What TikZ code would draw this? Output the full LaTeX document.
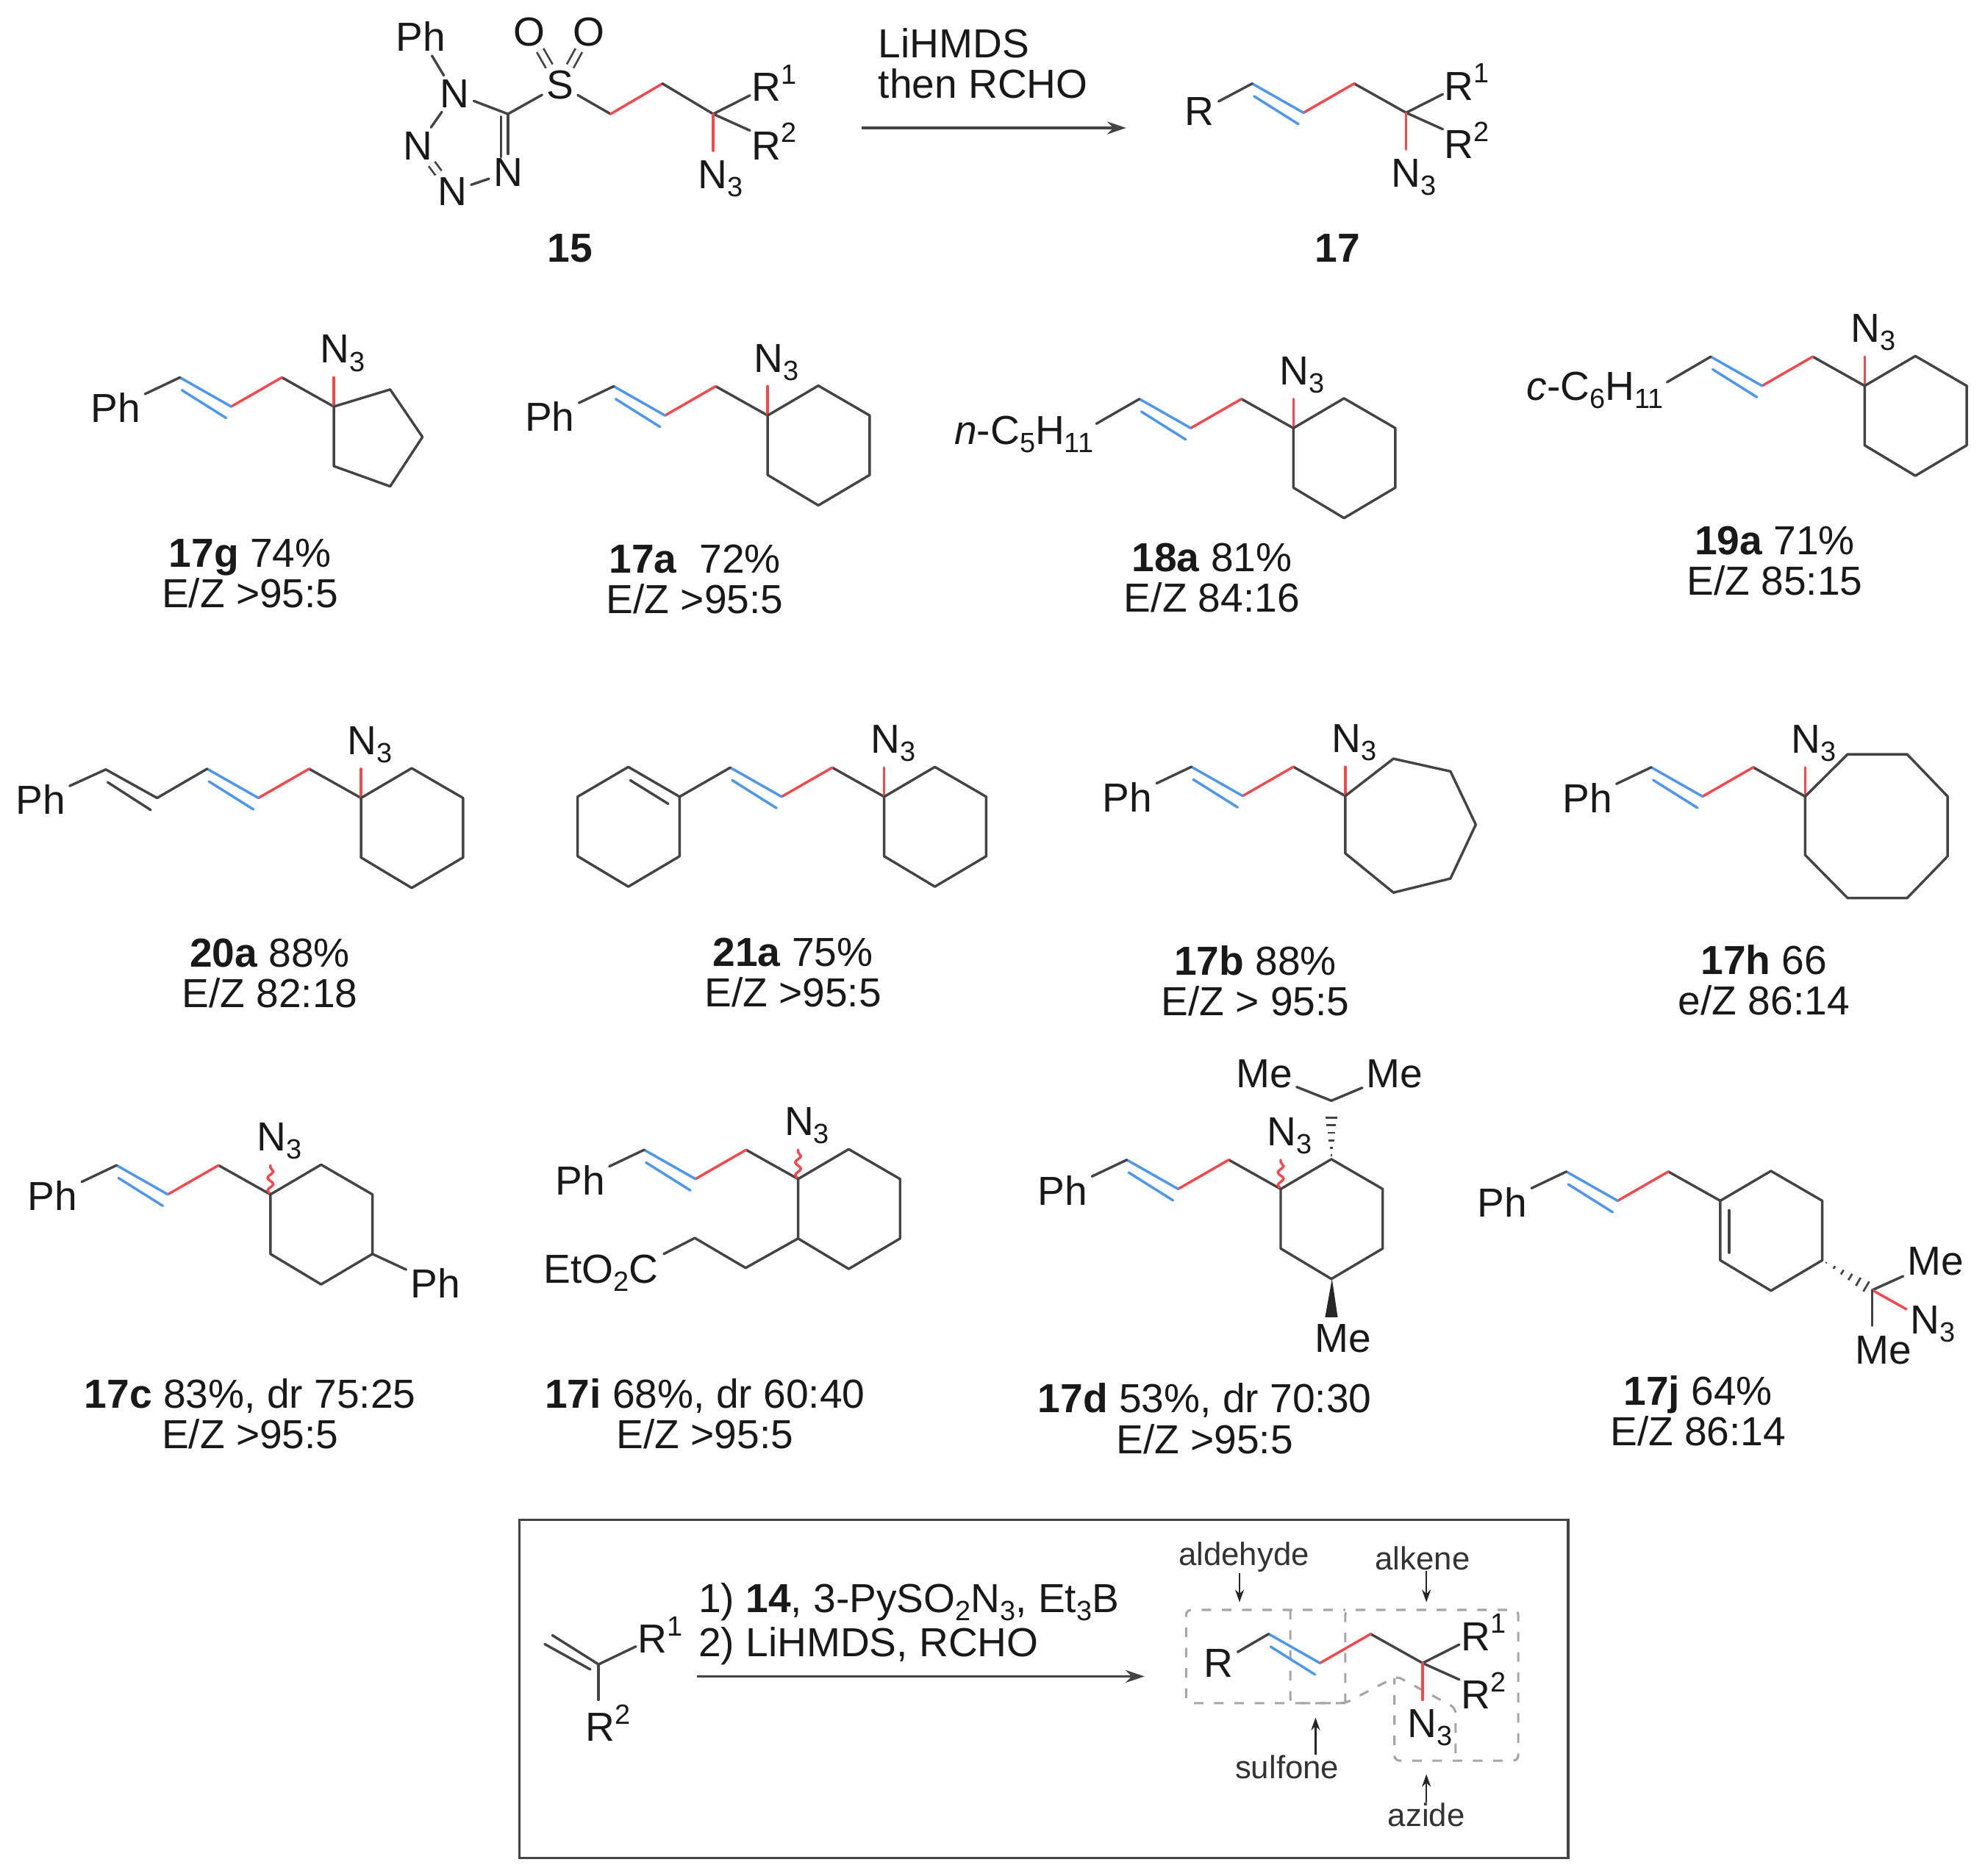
\documentclass[tikz,border=0pt]{standalone}
\usepackage{fontspec}
\setmainfont{Liberation Sans}
\usetikzlibrary{arrows.meta,calc,decorations.pathmorphing}

\definecolor{bondgray}{HTML}{444444}
\definecolor{azred}{HTML}{F5484C}
\definecolor{enblue}{HTML}{4F97EA}

\newcommand{\chemsub}[1]{\raisebox{-0.2em}{\fontsize{11}{11}\selectfont #1}}
\newcommand{\chemsup}[1]{\raisebox{0.42em}{\fontsize{11}{11}\selectfont #1}}

\tikzset{
  atom/.style={inner sep=1.5pt,text=black!90,font=\fontsize{16}{16}\selectfont},
  atombase/.style={atom,anchor=base west,inner sep=0.5pt},
  tag/.style={inner sep=0pt,align=center,text=black!90,font=\fontsize{16}{16}\selectfont},
  reagent/.style={inner sep=0pt,align=left,anchor=west,text=black!90,font=\fontsize{16}{16}\selectfont},
  hint/.style={inner sep=0pt,text=black!80,font=\fontsize{12.7}{12.7}\selectfont},
  bond/.style={draw=bondgray,line width=1pt,line cap=round,line join=round},
  dblbond/.style={draw=bondgray,line width=0.8pt,double=white,double distance=2.2pt},
  redbond/.style={draw=azred,line width=1pt,line cap=round},
  bluebond/.style={draw=enblue,line width=1pt,line cap=round},
  azwave/.style={redbond,decorate,decoration={snake,segment length=5pt,amplitude=1.1pt}},
  bigarrow/.style={draw=bondgray,line width=1pt,-{Stealth[length=7.5pt,width=5pt]}},
  tinyarrow/.style={draw=black!85,line width=0.7pt,-{Stealth[length=5pt,width=3.5pt]}},
  dashbox/.style={draw=gray!70,line width=0.9pt,rounded corners=2pt,dash pattern=on 3.8pt off 4.2pt},
}

\newcommand{\allyl}[3]{
  \coordinate (#1_q) at (#2,#3);
  \coordinate (#1_c1) at (#2-41,#3-23);
  \coordinate (#1_c2) at (#2-81,#3);
  \coordinate (#1_c3) at (#2-121.5,#3-23);
  \coordinate (#1_i3) at (#2-120,#3-13);
  \coordinate (#1_i2) at (#2-85,#3+9);
  \path
    (#1_q) edge[bond] (#1_c1)
    (#1_c1) edge[redbond] (#1_c2)
    (#1_c2) edge[bluebond] (#1_c3)
    (#1_i2) edge[bluebond] (#1_i3);
}
\newcommand{\styryl}[3]{
  \allyl{#1}{#2}{#3}
  \node[atom] (#1_ph) at (#2-172,#3+1) {Ph};
  \path (#1_c3) edge[bond] (#1_ph);
}
\newcommand{\azup}[4]{
  \coordinate (#1_a) at (#2,#3-23);
  \node[atom] (#1_n3) at (#2+7,#3-42) {N\chemsub{3}};
  \path (#1_q) edge[#4] (#1_a);
}
\newcommand{\rtail}[3]{
  \coordinate (#1_a) at (#2,#3+29);
  \node[atombase] (#1_r1) at (#2+29,#3-10) {R\chemsup{1}};
  \node[atombase] (#1_r2) at (#2+29,#3+36) {R\chemsup{2}};
  \node[atom] (#1_n3) at (#2+6,#3+51) {N\chemsub{3}};
  \path
    (#1_q) edge[bond] (#1_r1)
    (#1_q) edge[bond] (#1_r2)
    (#1_q) edge[redbond] (#1_a);
}
\newcommand{\hexring}[2]{
  \draw[bond] (#1,#2) -- ++(40,-23.5) -- ++(40.5,23.5) -- ++(0,47) -- ++(-40.5,24) -- ++(-40,-24) -- cycle;
}
\newcommand{\hashbond}[2]{
  \foreach \t in {0.08,0.24,0.4,0.56,0.72,0.88,1.0}
    \draw[draw=bondgray,line width=0.8pt] ($(#1)!\t!(#2)!{\t*2.6pt}!90:(#2)$) -- ($(#1)!\t!(#2)!{\t*2.6pt}!-90:(#2)$);
}

\begin{document}
\begin{tikzpicture}[x=0.5pt,y=-0.5pt]
  \useasboundingbox (0,0) rectangle (1567,1481);

  % sulfone and general alkene
  \node[atom] (a_ph) at (332,29) {Ph};
  \node[atom] (a_n1) at (359,74) {N};
  \node[atom] (a_n2) at (330,115) {N};
  \node[atom] (a_n3) at (357,151) {N};
  \node[atom] (a_n4) at (401,136) {N};
  \coordinate (a_c5) at (401,90);
  \coordinate (a_c5i) at (395.5,92);
  \coordinate (a_n4i) at (395.5,124);
  \node[atom] (a_s) at (442,67) {S};
  \node[atom] (a_o1) at (418,25) {O};
  \node[atom] (a_o2) at (465,25) {O};
  \coordinate (a_c2) at (482,90);
  \coordinate (a_c1) at (523,66);
  \coordinate (a_q) at (563,90);
  \path
    (a_ph) edge[bond] (a_n1)
    (a_n1) edge[bond] (a_n2)
    (a_n2) edge[dblbond] (a_n3)
    (a_n3) edge[bond] (a_n4)
    (a_n1) edge[bond] (a_c5)
    (a_c5) edge[bond] (a_n4)
    (a_c5i) edge[bond] (a_n4i)
    (a_c5) edge[bond] (a_s)
    (a_s) edge[dblbond] (a_o1)
    (a_s) edge[dblbond] (a_o2)
    (a_s) edge[bond] (a_c2)
    (a_c2) edge[redbond] (a_c1)
    (a_c1) edge[bond] (a_q);
  \rtail{a}{563}{90}
  \node[tag] (a_tag) at (450,196) {\textbf{15}};

  \coordinate (t_s) at (680,101);
  \coordinate (t_e) at (889,101);
  \path (t_s) edge[bigarrow] (t_e);
  \node[reagent] (t_reagent) at (693,50) {LiHMDS\\then RCHO};

  \allyl{b}{1110}{89}
  \node[atom] (b_r) at (947,88) {R};
  \path (b_c3) edge[bond] (b_r);
  \rtail{b}{1110}{89}
  \node[tag] (b_tag) at (1056,196) {\textbf{17}};

  % first row
  \styryl{g}{263.5}{321}
  \azup{g}{263.5}{321}{redbond}
  \draw[bond] (g_q) -- (308,307.5) -- (333.5,345) -- (308,384) -- (263.5,368) -- cycle;
  \node[tag] (g_tag) at (197.5,453) {\textbf{17g} 74\%\\E/Z >95:5};

  \styryl{h}{606}{328}
  \azup{h}{606}{328}{redbond}
  \hexring{606}{328}
  \node[tag] (h_tag) at (548.5,457.5) {\textbf{17a}\ \ 72\%\\E/Z >95:5};

  \allyl{i}{1021}{338}
  \azup{i}{1021}{338}{redbond}
  \hexring{1021}{338}
  \node[atombase] (i_lab) at (752,351) {\textit{n}-C\chemsub{5}H\chemsub{11}};
  \coordinate (i_e) at (865.5,334.5);
  \path (i_c3) edge[bond] (i_e);
  \node[tag] (i_tag) at (956.7,456) {\textbf{18a} 81\%\\E/Z 84:16};

  \allyl{j}{1472}{304.6}
  \azup{j}{1472}{304.6}{redbond}
  \hexring{1472}{304.6}
  \node[atombase] (j_lab) at (1204,316) {\textit{c}-C\chemsub{6}H\chemsub{11}};
  \coordinate (j_e) at (1316,301.7);
  \path (j_c3) edge[bond] (j_e);
  \node[tag] (j_tag) at (1401,442.7) {\textbf{19a} 71\%\\E/Z 85:15};

  % second row
  \allyl{k}{285}{630}
  \azup{k}{285}{630}{redbond}
  \hexring{285}{630}
  \coordinate (k_c4) at (124,630);
  \coordinate (k_c5) at (83.5,607.5);
  \coordinate (k_i4) at (119,639.5);
  \coordinate (k_i5) at (85,617.6);
  \node[atom] (k_ph) at (32,631) {Ph};
  \path
    (k_c3) edge[bond] (k_c4)
    (k_c4) edge[bond] (k_c5)
    (k_i4) edge[bond] (k_i5)
    (k_c5) edge[bond] (k_ph);
  \node[tag] (k_tag) at (213,768.6) {\textbf{20a} 88\%\\E/Z 82:18};

  \allyl{l}{698}{629}
  \azup{l}{698}{629}{redbond}
  \hexring{698}{629}
  \hexring{456}{629}
  \coordinate (l_r) at (536.5,629);
  \coordinate (l_i1) at (497.5,616);
  \coordinate (l_i2) at (527.5,634.6);
  \path
    (l_c3) edge[bond] (l_r)
    (l_i1) edge[bond] (l_i2);
  \node[tag] (l_tag) at (626,768) {\textbf{21a} 75\%\\E/Z >95:5};

  \styryl{m}{1062}{628.4}
  \azup{m}{1062}{628.4}{redbond}
  \draw[bond] (m_q) -- (1100,599) -- (1145,609) -- (1165,651) -- (1145,693.6) -- (1100,704.7) -- (1062,673.7) -- cycle;
  \node[tag] (m_tag) at (991,774.5) {\textbf{17b} 88\%\\E/Z > 95:5};

  \styryl{o}{1425}{628.8}
  \azup{o}{1425}{628.8}{redbond}
  \draw[bond] (o_q) -- (1458.5,595.5) -- (1505.5,595.5) -- (1537.5,628.8) -- (1537.5,676) -- (1505.5,709) -- (1458.5,709) -- (1425,675) -- cycle;
  \node[tag] (o_tag) at (1392.5,774) {\textbf{17h} 66\\e/Z 86:14};

  % third row
  \styryl{p}{213.5}{943}
  \azup{p}{213.5}{943}{azwave}
  \hexring{213.5}{943}
  \coordinate (p_r) at (294,990);
  \node[atom] (p_ph) at (343.6,1013) {Ph};
  \path (p_r) edge[bond] (p_ph);
  \node[tag] (p_tag) at (197.5,1116) {\textbf{17c} 83\%, dr 75:25\\E/Z >95:5};

  \styryl{r}{630}{930.8}
  \azup{r}{630}{930.8}{azwave}
  \hexring{630}{930.8}
  \coordinate (r_r) at (630,977.8);
  \coordinate (r_s1) at (588.6,1001);
  \coordinate (r_s2) at (548.5,977.4);
  \coordinate (r_e) at (524,990);
  \node[atombase] (r_lab) at (428,1013) {EtO\chemsub{2}C};
  \path
    (r_r) edge[bond] (r_s1)
    (r_s1) edge[bond] (r_s2)
    (r_s2) edge[bond] (r_e);
  \node[tag] (r_tag) at (556.5,1116) {\textbf{17i} 68\%, dr 60:40\\E/Z >95:5};

  \styryl{s}{1011}{938.7}
  \azup{s}{1011}{938.7}{azwave}
  \hexring{1011}{938.7}
  \coordinate (s_t) at (1051,915.2);
  \coordinate (s_h) at (1051,878);
  \coordinate (s_ip) at (1051,869);
  \node[atom] (s_me1) at (998,848) {Me};
  \node[atom] (s_me2) at (1101,848) {Me};
  \node[atom] (s_me3) at (1060,1057) {Me};
  \hashbond{s_t}{s_h}
  \path
    (s_ip) edge[bond] (s_me1)
    (s_ip) edge[bond] (s_me2);
  \coordinate (s_b) at (1051.5,1009.7);
  \fill[black!85] (s_b) -- (1056,1040) -- (1046,1040) -- cycle;
  \node[tag] (s_tag) at (951,1120) {\textbf{17d} 53\%, dr 70:30\\E/Z >95:5};

  \styryl{u}{1358}{948}
  \hexring{1358}{948}
  \coordinate (u_i1) at (1365,955.5);
  \coordinate (u_i2) at (1365,989);
  \coordinate (u_r) at (1438.5,995);
  \coordinate (u_t) at (1478,1018.5);
  \coordinate (u_e) at (1478,1046.6);
  \node[atom] (u_me1) at (1528,996) {Me};
  \node[atom] (u_n3) at (1526,1045.5) {N\chemsub{3}};
  \node[atom] (u_me2) at (1487,1066) {Me};
  \hashbond{u_r}{u_t}
  \path
    (u_i1) edge[bond] (u_i2)
    (u_t) edge[bond] (u_me1)
    (u_t) edge[redbond] (u_n3)
    (u_t) edge[bond] (u_e);
  \node[tag] (u_tag) at (1340.5,1114) {\textbf{17j} 64\%\\E/Z 86:14};

  % retrosynthesis box
  \draw[draw=bondgray,line width=1pt] (410,1200) rectangle (1238,1467);
  \coordinate (v_c) at (472.5,1314);
  \coordinate (v_c1) at (436,1291);
  \coordinate (v_i) at (466,1318);
  \coordinate (v_i1) at (430,1298);
  \coordinate (v_e) at (472.5,1342);
  \node[atombase] (v_r1) at (502,1305) {R\chemsup{1}};
  \node[atombase] (v_r2) at (461,1374.6) {R\chemsup{2}};
  \path
    (v_c) edge[bond] (v_c1)
    (v_i) edge[bond] (v_i1)
    (v_c) edge[bond] (v_r1)
    (v_c) edge[bond] (v_e);

  \coordinate (w_s) at (550,1323.5);
  \coordinate (w_e) at (903.5,1323.5);
  \path (w_s) edge[bigarrow] (w_e);
  \node[reagent,font=\fontsize{16}{17.5}\selectfont] (w_reagent) at (551,1282) {1) \textbf{14}, 3-PySO\chemsub{2}N\chemsub{3}, Et\chemsub{3}B\\2) LiHMDS, RCHO};

  \draw[dashbox] (1062,1344.6) -- (936.3,1344.6) -- (936.3,1271) -- (1062,1271);
  \draw[dashbox] (1018.6,1271) -- (1018.6,1344.6) -- (1062,1344.6) -- (1102.7,1323.4) -- (1149,1348.5) -- (1149,1390);
  \draw[dashbox] (1062,1344.6) -- (1062,1271) -- (1198.5,1271) -- (1198.5,1390) -- (1100.8,1390) -- (1100.8,1325);

  \allyl{x}{1123}{1313}
  \node[atom] (x_r) at (962,1313) {R};
  \path (x_c3) edge[bond] (x_r);
  \rtail{x}{1123}{1313}

  \node[hint] (x_ald) at (982,1229.5) {aldehyde};
  \node[hint] (x_alk) at (1123,1230.5) {alkene};
  \node[hint] (x_sul) at (1016,1395) {sulfone};
  \node[hint] (x_azi) at (1126,1432.6) {azide};
  \coordinate (x_t1) at (978.5,1265);
  \coordinate (x_t2) at (1126,1265);
  \coordinate (x_t3) at (1038.5,1356);
  \coordinate (x_t4) at (1126,1400.7);
  \path
    (x_ald.south -| x_t1) edge[tinyarrow] (x_t1)
    (x_alk.south -| x_t2) edge[tinyarrow] (x_t2)
    (x_sul.north -| x_t3) edge[tinyarrow] (x_t3)
    (x_azi.north -| x_t4) edge[tinyarrow] (x_t4);

\end{tikzpicture}
\end{document}
